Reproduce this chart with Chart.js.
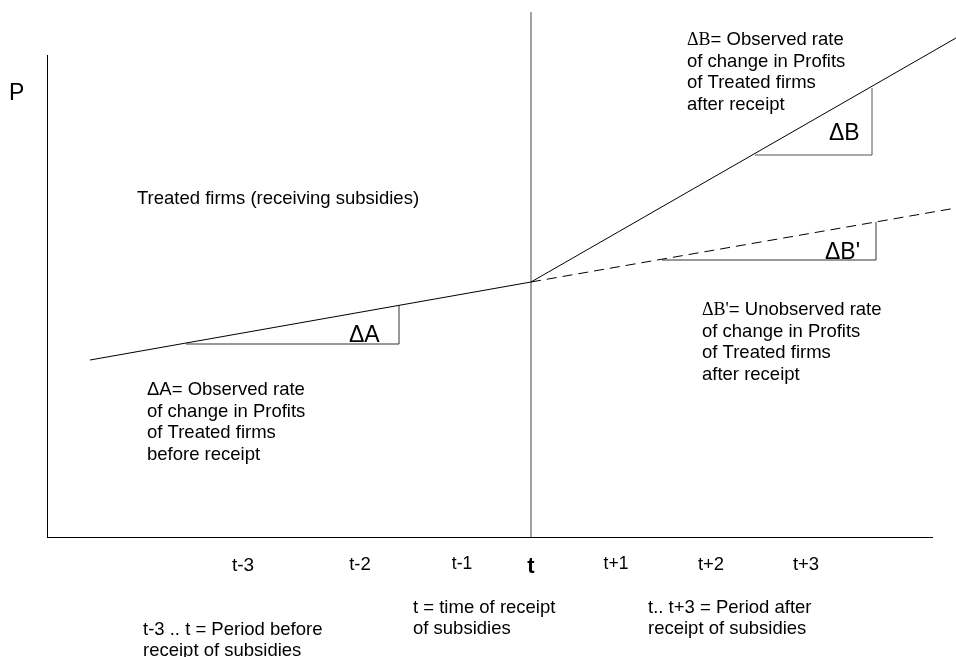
<!DOCTYPE html>
<html lang="en">
<head>
  <meta charset="UTF-8" />
  <title>Treated firms - rate of change in profits</title>
  <script src="https://cdn.jsdelivr.net/npm/chart.js"></script>
  <style>
    body { margin: 0; background: #fff; }
    #wrap { width: 956px; height: 657px; }
  </style>
</head>
<body>
  <div id="wrap"><canvas id="chart" width="956" height="657"></canvas></div>

  <script>
    // x axis periods (data units), and their labels
    const tickLabels = ["t-3", "t-2", "t-1", "t", "t+1", "t+2", "t+3"];
    const tickPos = [19.6, 31.3, 41.5, 48.4, 56.9, 66.4, 75.9];
    const tickSizes = [19, 18.5, 17.5, 22, 17.5, 18.5, 18.5];

    // profit paths (x = period position, y = profits)
    const beforeLine = [{ x: 4.3, y: 17.7 }, { x: 48.4, y: 25.5 }];
    const afterLine = [{ x: 48.4, y: 25.5 }, { x: 90.9, y: 49.9 }];
    const counterfactual = [{ x: 48.4, y: 25.5 }, { x: 90.9, y: 32.9 }];

    // slope triangles
    const triA = [{ x: 13.9, y: 19.3 }, { x: 35.2, y: 19.3 }, { x: 35.2, y: 23.2 }];
    const triB = [{ x: 70.8, y: 38.2 }, { x: 82.5, y: 38.2 }, { x: 82.5, y: 44.9 }];
    const triB2 = [{ x: 61.5, y: 27.7 }, { x: 82.9, y: 27.7 }, { x: 82.9, y: 31.5 }];

    // time of receipt marker
    const receiptLine = [{ x: 48.4, y: 0 }, { x: 48.4, y: 52.5 }];

    const SANS = "'Liberation Sans', Arial, sans-serif";
    const SERIF = "'Liberation Serif', 'Times New Roman', serif";

    // text notes: x, y in data units (y = baseline of first line)
    const notes = [
      { x: -3.8, y: 43.7, size: 23, lines: [["P"]] },
      { x: 9.0, y: 33.3, size: 18.5, lines: [["Treated firms (receiving subsidies)"]] },
      { x: 30.2, y: 19.5, size: 23, lines: [["\u0394A"]] },
      { x: 78.2, y: 39.7, size: 23, lines: [["\u0394B"]] },
      { x: 77.8, y: 27.8, size: 23, lines: [["\u0394B'"]] },
      { x: 64.0, y: 49.2, size: 18.5, gap: 2.17, lines: [
        [["\u0394B", "serif"], ["= Observed rate"]],
        ["of change in Profits"], ["of Treated firms"], ["after receipt"]
      ] },
      { x: 65.5, y: 22.2, size: 18.5, gap: 2.17, lines: [
        [["\u0394B'", "serif"], ["= Unobserved rate"]],
        ["of change in Profits"], ["of Treated firms"], ["after receipt"]
      ] },
      { x: 10.0, y: 14.2, size: 18.5, gap: 2.15, lines: [
        ["\u0394A= Observed rate"], ["of change in Profits"], ["of Treated firms"], ["before receipt"]
      ] },
      { x: 9.6, y: -9.8, size: 18.5, gap: 2.05, lines: [["t-3 .. t = Period before"], ["receipt of subsidies"]] },
      { x: 36.6, y: -7.6, size: 18.5, gap: 2.1, lines: [["t = time of receipt"], ["of subsidies"]] },
      { x: 60.1, y: -7.6, size: 18.5, gap: 2.1, lines: [["t.. t+3 = Period after"], ["receipt of subsidies"]] }
    ];

    const notesPlugin = {
      id: "notes",
      afterDraw(chart) {
        const { ctx, scales } = chart;
        ctx.save();
        ctx.fillStyle = "#000";
        ctx.textBaseline = "alphabetic";
        ctx.textAlign = "left";
        notes.forEach(n => {
          const x0 = scales.x.getPixelForValue(n.x);
          n.lines.forEach((line, li) => {
            const y = scales.y.getPixelForValue(n.y - li * (n.gap || 0));
            let x = x0;
            // a line is either [text] or a list of [text, font] pieces
            const pieces = Array.isArray(line[0]) ? line : [line];
            pieces.forEach(p => {
              const fam = p[1] === "serif" ? SERIF : SANS;
              const size = p[1] === "serif" ? n.size - 0.5 : n.size;
              ctx.font = size + "px " + fam;
              ctx.fillText(p[0], x, y);
              x += ctx.measureText(p[0]).width;
            });
          });
        });
        ctx.restore();
      }
    };

    const thin = (data, extra) => Object.assign({
      data: data,
      borderColor: "#000",
      borderWidth: 1,
      pointRadius: 0,
      tension: 0,
      fill: false,
      clip: false
    }, extra || {});

    new Chart(document.getElementById("chart"), {
      type: "line",
      data: {
        datasets: [
          thin(beforeLine),
          thin(afterLine),
          thin(counterfactual, { borderDash: [10, 6] }),
          thin(triA, { borderColor: "#333" }),
          thin(triB, { borderColor: "#555" }),
          thin(triB2, { borderColor: "#333" }),
          thin(receiptLine, { borderColor: "#444" })
        ]
      },
      options: {
        responsive: false,
        animation: false,
        layout: { padding: { top: 55, right: 24, left: 0, bottom: 0 } },
        plugins: { legend: { display: false }, tooltip: { enabled: false } },
        scales: {
          x: {
            type: "linear",
            min: 0,
            max: 88.5,
            grid: { display: false, drawTicks: false },
            border: { display: true, color: "#000", width: 1 },
            afterBuildTicks: s => { s.ticks = tickPos.map(v => ({ value: v })); },
            afterFit: s => { s.height = 120; },
            ticks: {
              autoSkip: false,
              maxRotation: 0,
              padding: 17,
              color: "#000",
              callback: (v, i) => tickLabels[i],
              font: c => ({
                family: SANS,
                size: tickSizes[c.index],
                weight: tickLabels[c.index] === "t" ? "bold" : "normal"
              })
            }
          },
          y: {
            min: 0,
            max: 48.2,
            grid: { display: false, drawTicks: false },
            border: { display: true, color: "#000", width: 1 },
            ticks: { display: false },
            afterFit: s => { s.width = 47; }
          }
        }
      },
      plugins: [notesPlugin]
    });
  </script>
</body>
</html>
